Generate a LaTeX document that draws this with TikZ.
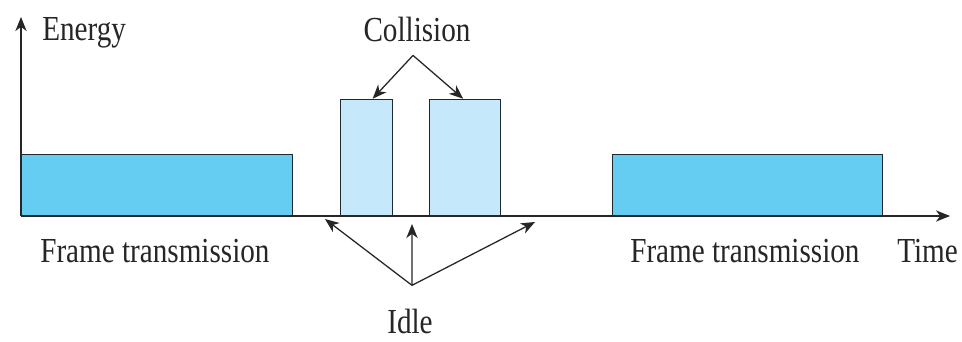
\documentclass[tikz,border=0pt]{standalone}
\usepackage{fontspec}
\setmainfont[FakeStretch=0.83]{Liberation Serif}
\usepackage{tikz}
\usetikzlibrary{arrows.meta}
\definecolor{framefill}{HTML}{66CDF2}
\definecolor{burstfill}{HTML}{C5E8FA}
\definecolor{edgegray}{HTML}{1E2A30}
\tikzset{
    frame/.style={draw=edgegray,line width=0.9pt,fill=framefill,inner sep=0pt,anchor=south west,minimum height=1.525cm},
    burst/.style={draw=edgegray,line width=0.9pt,fill=burstfill,inner sep=0pt,anchor=south west,minimum height=2.9cm},
    lbl/.style={inner sep=0pt,font=\fontsize{25}{28}\selectfont,text=black!85},
    arr/.style={line width=0.9pt,draw=black!85,-{Stealth[length=10pt,width=8pt,inset=3pt]}}
}

\begin{document}
\begin{tikzpicture}
            \useasboundingbox[fill=white] (-0.525,-3.15) rectangle (23.525,5.4);
            \coordinate (o) at (0,0);
            \coordinate (ytop) at (0,4.975);
            \coordinate (xend) at (23.225,0);
            \draw[arr] (o) -- (ytop);
            \draw[arr] (o) -- (xend);
            \node[frame,minimum width=6.775cm] (f1) at (0,0) {};
            \node[burst,minimum width=1.3cm] (c1) at (7.975,0) {};
            \node[burst,minimum width=1.775cm] (c2) at (10.2,0) {};
            \node[frame,minimum width=6.75cm] (f2) at (14.775,0) {};
            \node[lbl,anchor=base west] (energy) at (0.525,4.375) {Energy};
            \node[lbl,anchor=base] (coll) at (9.9,4.35) {Collision};
            \node[lbl,anchor=base west] (ft1) at (0.475,-1.175) {Frame transmission};
            \node[lbl,anchor=base west] (ft2) at (15.225,-1.175) {Frame transmission};
            \node[lbl,anchor=base west] (time) at (21.9,-1.175) {Time};
            \node[lbl,anchor=base] (idle) at (9.725,-2.93) {Idle};
            % arrows to the two collided frames
            \coordinate (cfork) at ([xshift=-0.1cm,yshift=-0.32cm]coll.south);
            \draw[arr] (cfork) -- ([xshift=0.15cm]c1.north);
            \draw[arr] (cfork) -- ([xshift=-0.05cm]c2.north);
            % arrows to the idle gaps
            \coordinate (ifork) at ([xshift=0.05cm,yshift=0.58cm]idle.north);
            \coordinate (gap1) at (7.6,-0.075);
            \coordinate (gap2) at (9.775,-0.2);
            \coordinate (gap3) at (12.85,-0.15);
            \draw[arr] (ifork) -- (gap1);
            \draw[arr] (ifork) -- (gap2);
            \draw[arr] (ifork) -- (gap3);
        \end{tikzpicture}
\end{document}
